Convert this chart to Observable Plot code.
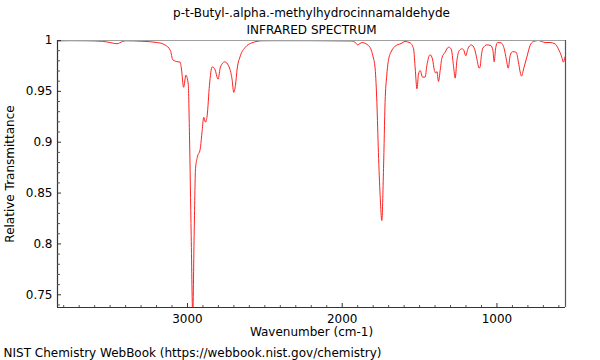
<!DOCTYPE html>
<html>
<head>
<meta charset="utf-8">
<script src="https://cdn.jsdelivr.net/npm/d3@7"></script>
<script src="https://cdn.jsdelivr.net/npm/@observablehq/plot@0.6"></script>
<style>
  html, body { margin: 0; padding: 0; background: #fff; }
  #chart svg { display: block; }
</style>
</head>
<body>
<div id="chart"></div>
<script>
const title = "p-t-Butyl-.alpha.-methylhydrocinnamaldehyde";
const subtitle = "INFRARED SPECTRUM";
const xLabel = "Wavenumber (cm-1)";
const yLabel = "Relative Transmittance";
const caption = "NIST Chemistry WebBook (https://webbook.nist.gov/chemistry)";

const xDomain = [3840, 557];
const yDomain = [0.7375, 1.0];
const xMajorTicks = [3000, 2000, 1000];
const xMinorTicks = [3800,3700,3600,3500,3400,3300,3200,3100,2900,2800,2700,2600,2500,2400,2300,2200,2100,1900,1800,1700,1600,1500,1400,1300,1200,1100,900,800,700,600];
const yMajorTicks = [0.75, 0.8, 0.85, 0.9, 0.95, 1];
const yMinorTicks = [0.74,0.76,0.77,0.78,0.79,0.81,0.82,0.83,0.84,0.86,0.87,0.88,0.89,0.91,0.92,0.93,0.94,0.96,0.97,0.98,0.99];

const wavenumber = [3840,3750,3650,3550,3500,3456,3420,3400,3300,3194,3146,3110,3095,3060,3047,3039,3025,3010,2995,2987,2976,2966,2957,2948,2937,2918,2905,2895,2884,2873,2858,2841,2824,2802,2787,2759,2734,2712,2701,2690,2679,2658,2626,2583,2518,2465,2200,1937,1915,1901,1885,1873,1830,1802,1787,1776,1766,1755,1744,1733,1723,1712,1695,1690,1658,1620,1594,1561,1539,1528,1517,1507,1496,1481,1464,1453,1432,1417,1404,1395,1388,1378,1367,1356,1335,1313,1296,1281,1270,1259,1244,1227,1216,1201,1188,1166,1145,1130,1115,1109,1100,1091,1065,1039,1026,1018,1009,996,974,953,940,927,915,900,876,861,850,841,828,807,786,764,732,710,689,657,625,603,581,571,560,557];
const transmittance = [0.9995,0.9998,0.9997,0.9992,0.998,0.9968,0.999,0.9997,0.9993,0.998,0.9957,0.990,0.981,0.979,0.9787,0.972,0.954,0.966,0.957,0.907,0.808,0.730,0.808,0.874,0.885,0.893,0.9115,0.9246,0.9197,0.926,0.956,0.974,0.972,0.962,0.974,0.979,0.975,0.962,0.949,0.956,0.972,0.985,0.9934,0.9977,0.9997,0.9998,0.9998,0.9995,0.998,0.9957,0.997,0.998,0.995,0.985,0.972,0.939,0.890,0.8476,0.823,0.874,0.939,0.966,0.985,0.987,0.9944,0.997,0.999,0.9977,0.9918,0.972,0.9525,0.967,0.9705,0.964,0.964,0.9754,0.986,0.982,0.9705,0.968,0.9695,0.9597,0.9705,0.9826,0.9885,0.9934,0.9918,0.9754,0.963,0.980,0.990,0.9918,0.991,0.985,0.9918,0.9957,0.9918,0.982,0.9728,0.974,0.986,0.9925,0.9957,0.995,0.990,0.979,0.9918,0.998,0.9977,0.9918,0.982,0.9728,0.985,0.989,0.9885,0.9787,0.969,0.965,0.972,0.9836,0.995,0.999,1.0,0.999,0.998,0.998,0.9967,0.9918,0.9836,0.9787,0.9836,0.985];

const spectrum = wavenumber.map((w, i) => ({w, t: transmittance[i]}));
const fmt = d => String(d);

const chart = Plot.plot({
  width: 600,
  height: 360,
  marginTop: 40,
  marginBottom: 53,
  marginLeft: 57,
  marginRight: 35,
  style: {fontFamily: "'DejaVu Sans', sans-serif", fontSize: "12px", color: "#000", background: "#fff"},
  x: {domain: xDomain, axis: null},
  y: {domain: yDomain, axis: null},
  marks: [
    Plot.line(spectrum, {x: "w", y: "t", stroke: "#ff2020", strokeWidth: 1, curve: "monotone-x", clip: true}),
    Plot.ruleY([yDomain[1]], {stroke: "#a0a0a0", strokeWidth: 1.2}),
    Plot.ruleX([xDomain[1]], {stroke: "#555", strokeWidth: 1.2}),
    Plot.ruleX([xDomain[0]], {stroke: "#333", strokeWidth: 1.2}),
    Plot.ruleY([yDomain[0]], {stroke: "#333", strokeWidth: 1.2}),
    Plot.axisX({ticks: xMajorTicks, anchor: "bottom", tickSize: -4, tickPadding: 11, tickFormat: fmt, fontSize: 12, stroke: "#333", label: null}),
    Plot.axisX({ticks: xMinorTicks, anchor: "bottom", tickSize: -2, tickFormat: () => "", stroke: "#555", label: null}),
    Plot.axisY({ticks: yMajorTicks, anchor: "left", tickSize: -4, tickPadding: 9, tickFormat: fmt, fontSize: 12, stroke: "#333", label: null}),
    Plot.axisY({ticks: yMinorTicks, anchor: "left", tickSize: -3, tickFormat: () => "", stroke: "#555", label: null}),
    Plot.text([title], {frameAnchor: "top", lineAnchor: "middle", dy: -27, fontSize: 12, fill: "#000"}),
    Plot.text([subtitle], {frameAnchor: "top", lineAnchor: "middle", dy: -10, fontSize: 12, fill: "#000"}),
    Plot.text([xLabel], {frameAnchor: "bottom", lineAnchor: "middle", dy: 25, fontSize: 12, fill: "#000"}),
    Plot.text([yLabel], {frameAnchor: "left", textAnchor: "middle", lineAnchor: "middle", dx: -47, rotate: -90, fontSize: 12, fill: "#000"}),
    Plot.text([caption], {frameAnchor: "bottom-left", textAnchor: "start", lineAnchor: "middle", dx: -54, dy: 46, fontSize: 12, fill: "#000"})
  ]
});
document.getElementById("chart").appendChild(chart);
</script>
</body>
</html>
